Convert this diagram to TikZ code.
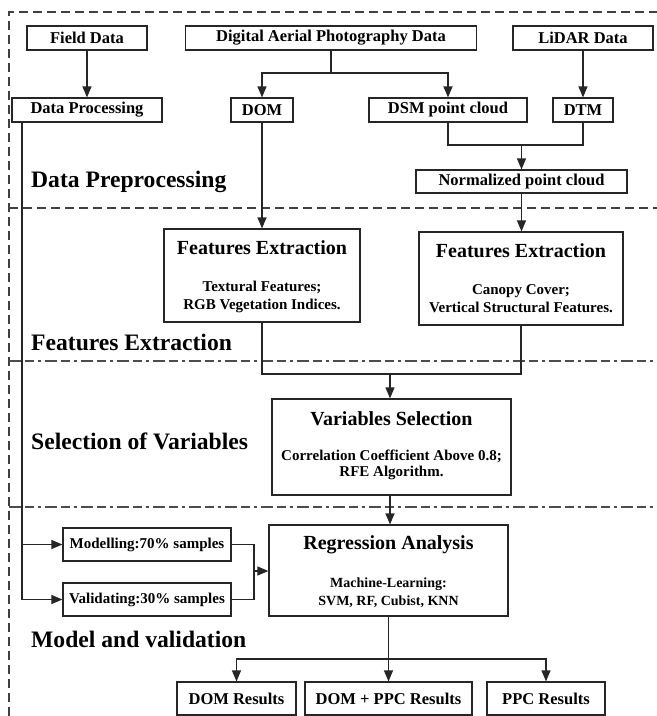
\documentclass[tikz,border=0pt]{standalone}
\usepackage{fontspec}
\setmainfont{Liberation Serif}
\usetikzlibrary{arrows.meta}
\begin{document}
\begin{tikzpicture}[x=1pt,y=-1pt,
  frame/.style={line width=1.1pt, black!75, dash pattern=on 9pt off 5pt},
  divider/.style={line width=1.1pt, black!70, dash pattern=on 12pt off 4pt on 9pt off 4pt on 3pt off 4pt},
  box/.style={draw=black!85, line width=1.2pt, inner sep=0pt, minimum height=24pt,
    font=\fontsize{16.5}{18}\selectfont\bfseries},
  smallbox/.style={box, minimum height=33pt, font=\fontsize{15}{17}\selectfont\bfseries},
  bigbox/.style={draw=black!85, line width=1.2pt, inner sep=0pt},
  title/.style={inner sep=0pt, font=\fontsize{20}{22}\selectfont\bfseries},
  sub/.style={inner sep=0pt, align=center, font=\fontsize{15}{18}\selectfont\bfseries},
  stage/.style={inner sep=0pt, anchor=west, font=\fontsize{23.6}{26}\selectfont\bfseries},
  link/.style={line width=1.2pt, black!85},
  arr/.style={link, -{Triangle[length=11pt,width=9pt]}},
]
\useasboundingbox (0,0) rectangle (657,716);

% outer frame and stage dividers
\draw[frame] (9,716) -- (9,12) -- (657,12);
\draw[frame] (9,208) -- (657,208);
\draw[divider] (9,361) -- (657,361);
\draw[divider] (9,507) -- (657,507);

% stage labels
\node[stage] (lblpre) at (31,182) {Data Preprocessing};
\node[stage] (lblfe)  at (31,342) {Features Extraction};
\node[stage] (lblsel) at (31,441) {Selection of Variables};
\node[stage] (lblmod) at (31,639) {Model and validation};

% data sources
\node[box, minimum width=120pt] (field) at (87,38)  {Field Data};
\node[box, minimum width=291pt] (dap)   at (331,38) {Digital Aerial Photography Data};
\node[box, minimum width=140pt] (lidar) at (583,38) {LiDAR Data};

% preprocessing products
\node[box, minimum width=150pt] (dproc) at (87,110)  {Data Processing};
\node[box, minimum width=62pt]  (dom)   at (262,110) {DOM};
\node[box, minimum width=158pt] (dsm)   at (448,110) {DSM point cloud};
\node[box, minimum width=60pt]  (dtm)   at (583,110) {DTM};
\node[box, minimum width=211pt, minimum height=23pt] (norm) at (521.5,181.5) {Normalized point cloud};

% feature extraction
\node[bigbox, minimum width=196pt, minimum height=93pt] (fe1) at (262,275.5) {};
\node[title] (fe1t) at (262,248) {Features Extraction};
\node[sub]   (fe1s) at (262,297) {Textural Features;\\RGB Vegetation Indices.};

\node[bigbox, minimum width=204pt, minimum height=93pt] (fe2) at (521,278.5) {};
\node[title] (fe2t) at (521,251) {Features Extraction};
\node[sub]   (fe2s) at (521,299) {Canopy Cover;\\Vertical Structural Features.};

% variable selection
\node[bigbox, minimum width=239pt, minimum height=96pt] (vs) at (391.5,447) {};
\node[title] (vst) at (391.5,419) {Variables Selection};
\node[sub, font=\fontsize{15}{16}\selectfont\bfseries] (vss) at (391.5,465) {Correlation Coefficient Above 0.8;\\RFE Algorithm.};

% modelling and validation
\node[smallbox, minimum width=168pt] (model) at (147,544.5) {Modelling:70\% samples};
\node[smallbox, minimum width=168pt] (valid) at (147,599.5) {Validating:30\% samples};

\node[bigbox, minimum width=239pt, minimum height=91pt] (reg) at (388.5,570.5) {};
\node[title] (regt) at (388.5,545) {Regression Analysis};
\node[sub, font=\fontsize{14}{18}\selectfont\bfseries] (regs) at (388.5,593) {Machine-Learning:\\SVM, RF, Cubist, KNN};

% results
\node[box, minimum width=119pt, minimum height=33pt] (domres)  at (236.5,698.5) {DOM Results};
\node[box, minimum width=167pt, minimum height=33pt] (bothres) at (388.5,698.5) {DOM + PPC Results};
\node[box, minimum width=118pt, minimum height=33pt] (ppcres)  at (546,698.5)   {PPC Results};

% junction points
\coordinate (dapsplit) at (331,73);
\coordinate (normjoin) at (521.5,145);
\coordinate (fejoin)   at (390,374);
\coordinate (sampsplit) at (22,599.5);
\coordinate (sampjoin) at (254,571);
\coordinate (resjoin)  at (388.5,659);

% connectors
\draw[arr] (field) -- (dproc);
\draw[link] (dap) -- (dapsplit);
\draw[arr] (dapsplit) -| (dom.north);
\draw[arr] (dapsplit) -| (dsm.north);
\draw[arr] (lidar) -- (dtm);
\draw[link] (dsm.south) |- (normjoin) -| (dtm.south);
\draw[arr] (normjoin) -- (norm.north);

\draw[arr] (dom.south) -- (fe1.north);
\draw[arr] (norm.south) -- (norm.south |- fe2.north);

\draw[link] (fe1.south) |- (fejoin) -| (fe2.south);
\draw[arr] (fejoin) -- (fejoin |- vs.north);
\draw[arr] (fejoin |- vs.south) -- (fejoin |- reg.north);

\draw[arr] (dproc.south -| sampsplit) -- (sampsplit) -- (valid.west);
\draw[arr] (sampsplit |- model.west) -- (model.west);
\draw[link] (model.east) -| (sampjoin) |- (valid.east);
\draw[arr] (sampjoin) -- (sampjoin -| reg.west);

\draw[arr] (reg.south) -- (bothres.north);
\draw[arr] (resjoin) -| (domres.north);
\draw[arr] (resjoin) -| (ppcres.north);
\draw[link] (domres.north |- resjoin) -- (resjoin);
\end{tikzpicture}
\end{document}
